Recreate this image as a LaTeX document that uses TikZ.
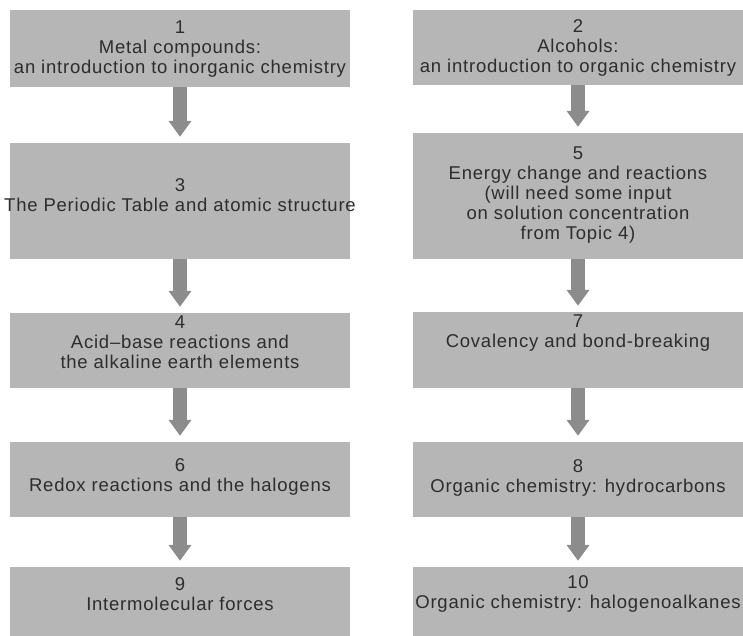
\documentclass[tikz,border=0pt]{standalone}
\usepackage{fontspec}
\setmainfont[LetterSpace=4.2]{Liberation Sans}
\usetikzlibrary{arrows.meta}
\definecolor{boxgray}{RGB}{182,182,182}
\definecolor{arrowgray}{RGB}{140,140,140}
\definecolor{txtgray}{RGB}{45,45,45}
\tikzset{
  topicbox/.style={rectangle, fill=boxgray, draw=none, inner sep=0pt},
  topictext/.style={align=center, text=txtgray, inner sep=0pt,
     font=\fontsize{18.5}{20}\selectfont},
  fatarrow/.style={draw=arrowgray, line width=14pt,
     -{Triangle[width=22pt 0, length=16pt 0, fill=arrowgray]},
     shorten >=6pt}
}
\begin{document}
\begin{tikzpicture}[x=1pt,y=-1pt]
\useasboundingbox (0,0) rectangle (743,636);
% left column boxes
\node[topicbox, minimum width=340pt, minimum height=77pt] (b1) at (180,48.5) {};
\node[topicbox, minimum width=340pt, minimum height=116pt] (b3) at (180,201) {};
\node[topicbox, minimum width=340pt, minimum height=75pt] (b4) at (180,350.5) {};
\node[topicbox, minimum width=340pt, minimum height=75pt] (b6) at (180,479.5) {};
\node[topicbox, minimum width=340pt, minimum height=69pt] (b9) at (180,601.5) {};
% right column boxes
\node[topicbox, minimum width=330pt, minimum height=75pt] (b2) at (578,47.5) {};
\node[topicbox, minimum width=330pt, minimum height=126pt] (b5) at (578,196) {};
\node[topicbox, minimum width=330pt, minimum height=76pt] (b7) at (578,350) {};
\node[topicbox, minimum width=330pt, minimum height=75pt] (b8) at (578,479.5) {};
\node[topicbox, minimum width=330pt, minimum height=69pt] (b10) at (578,601.5) {};
% texts
\node[topictext] (t1) at (180,49) {1\\Metal compounds:\\an introduction to inorganic chemistry};
\node[topictext] (t3) at (180,195) {3\\The Periodic Table and atomic structure};
\node[topictext] (t4) at (180,342) {4\\Acid--base reactions and\\the alkaline earth elements};
\node[topictext] (t6) at (180,477) {6\\Redox reactions and the halogens};
\node[topictext] (t9) at (180,594) {9\\Intermolecular forces};
\node[topictext] (t2) at (578,48) {2\\Alcohols:\\an introduction to organic chemistry};
\node[topictext] (t5) at (578,195) {5\\Energy change and reactions\\(will need some input\\on solution concentration\\from Topic 4)};
\node[topictext] (t7) at (578,333) {7\\Covalency and bond-breaking};
\node[topictext] (t8) at (578,478) {8\\Organic chemistry: hydrocarbons};
\node[topictext] (t10) at (578,594) {10\\Organic chemistry: halogenoalkanes};
% arrows
\draw[fatarrow] (b1.south) -- (b3.north);
\draw[fatarrow] (b3.south) -- (b4.north);
\draw[fatarrow] (b4.south) -- (b6.north);
\draw[fatarrow] (b6.south) -- (b9.north);
\draw[fatarrow] (b2.south) -- (b5.north);
\draw[fatarrow] (b5.south) -- (b7.north);
\draw[fatarrow] (b7.south) -- (b8.north);
\draw[fatarrow] (b8.south) -- (b10.north);
\end{tikzpicture}
\end{document}
